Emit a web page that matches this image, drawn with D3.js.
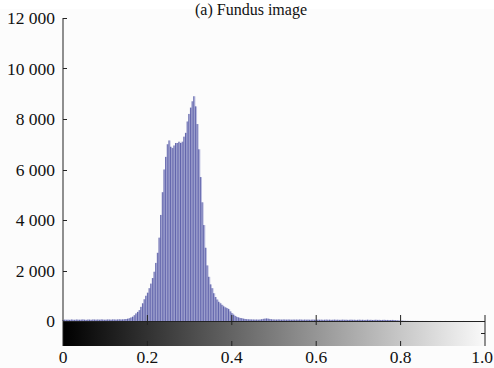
<!DOCTYPE html>
<html>
<head>
<meta charset="utf-8">
<script src="https://cdn.jsdelivr.net/npm/d3@7"></script>
<style>
  html, body { margin: 0; padding: 0; background: #fcfcfc; overflow: hidden; }
  svg { display: block; }
</style>
</head>
<body>
<svg id="chart" width="494" height="368"></svg>
<script>
// histogram counts, 256 gray-level bins (imhist style)
const countsDark = [40, 55, 48, 52, 45, 60, 50, 47, 58, 52,
  49, 55, 61, 50, 46, 57, 53, 48, 60, 55,
  52, 58, 50, 62, 56, 49, 54, 60, 57, 52,
  63, 58, 55, 61, 66, 59, 64, 70, 78, 90];
const countsPeak = [110, 140, 170, 230, 300, 360, 430, 560, 700, 860,
  1000, 1120, 1300, 1480, 1700, 1950, 2300, 2700, 3300, 4200,
  5100, 6000, 6500, 7000, 7150, 6900, 6850, 6950, 7050, 7050,
  7100, 7050, 7100, 7300, 7450, 7900, 8200, 8450, 8700, 8900,
  8500, 7800, 6800, 5700, 4700, 3800, 2900, 2200, 1750, 1450,
  1300, 1100, 950, 850, 760, 700, 640, 580, 540, 510,
  470, 380, 310, 250, 200, 160, 140, 120, 110, 90, 80, 70];
const countsTail = [65, 62, 60, 58, 55, 57, 52, 60, 70, 85,
  95, 100, 90, 75, 65, 60, 58, 55, 62, 57,
  53, 60, 56, 52, 58, 54, 50, 56, 52, 55,
  51, 57, 53, 49, 55, 50, 54, 48, 52, 56,
  50, 47, 53, 49, 52, 46, 50, 54, 48, 51,
  45, 49, 53, 47, 50, 44, 48, 52, 46, 49,
  43, 47, 51, 45, 48, 42, 46, 50, 44, 47,
  41, 45, 49, 43, 46, 40, 44, 48, 42, 45,
  39, 43, 46, 40, 42, 37, 40, 43, 35, 30,
  25, 20, 15];
const countsBright = [12, 8, 6, 5, 4, 3, 3, 2, 2, 2,
  1, 1, 2, 1, 1, 1, 0, 1, 1, 0,
  1, 0, 0, 1, 0, 0, 1, 0, 0, 0,
  0, 1, 0, 0, 0, 0, 0, 1, 0, 0,
  0, 0, 0, 0, 0, 0, 0, 0, 0, 0, 0];

const yTicks = [0, 2000, 4000, 6000, 8000, 10000, 12000];
const xTicks = [0, 0.2, 0.4, 0.6, 0.8, 1.0];
const xTickLabels = ["0", "0.2", "0.4", "0.6", "0.8", "1.0"];
const title = "(a) Fundus image";

const counts = countsDark.concat(countsPeak, countsTail, countsBright);
const nBins = counts.length;
const serif = "'Liberation Serif', 'DejaVu Serif', serif";

const svg = d3.select("#chart");
const plotLeft = 63, plotRight = 485, plotTop = 18, base = 321, barBottom = 346;

const x = d3.scaleLinear().domain([0, 1]).range([plotLeft, plotRight]);
const y = d3.scaleLinear().domain([0, 12000]).range([base, plotTop]);
const fmt = (v) => v === 0 ? "0" : d3.format(",")(v).replace(/,/g, " ");

// white strip behind the title
svg.append("rect").attr("x", 0).attr("y", 0).attr("width", 494).attr("height", 9).attr("fill", "#ffffff");
svg.append("text")
  .attr("x", 251).attr("y", 15)
  .attr("text-anchor", "middle")
  .attr("font-family", serif)
  .attr("font-size", 16)
  .attr("fill", "#111")
  .text(title);

// grayscale colour bar under the histogram
const grad = svg.append("defs").append("linearGradient").attr("id", "gray");
grad.append("stop").attr("offset", "0%").attr("stop-color", "#000");
grad.append("stop").attr("offset", "100%").attr("stop-color", "#f9f9f9");
svg.append("rect")
  .attr("x", x(0)).attr("y", base)
  .attr("width", x(1) - x(0)).attr("height", barBottom - base)
  .attr("fill", "url(#gray)");

// stems
const bw = (x(1) - x(0)) / (nBins - 1);
const bins = svg.append("g");
bins.selectAll("rect")
  .data(counts)
  .join("rect")
  .attr("x", (d, i) => x(i / (nBins - 1)))
  .attr("y", (d) => y(d))
  .attr("width", bw)
  .attr("height", (d) => base - y(d))
  .attr("fill", "#bcbedf");
bins.selectAll("line")
  .data(counts)
  .join("line")
  .attr("x1", (d, i) => x(i / (nBins - 1)))
  .attr("x2", (d, i) => x(i / (nBins - 1)))
  .attr("y1", base)
  .attr("y2", (d) => y(d))
  .attr("stroke", "#42469a")
  .attr("stroke-width", 0.8);

// y axis
const axis = svg.append("g").attr("stroke", "#222").attr("stroke-width", 1);
axis.append("line").attr("x1", plotLeft).attr("x2", plotLeft).attr("y1", plotTop).attr("y2", barBottom);
axis.selectAll(".yt")
  .data(yTicks)
  .join("line")
  .attr("x1", plotLeft).attr("x2", plotLeft + 4)
  .attr("y1", (d) => Math.round(y(d)) + 0.5)
  .attr("y2", (d) => Math.round(y(d)) + 0.5);
svg.selectAll(".ylab")
  .data(yTicks)
  .join("text")
  .attr("x", 55)
  .attr("y", (d) => y(d) + 6)
  .attr("text-anchor", "end")
  .attr("font-family", serif)
  .attr("font-size", 17.5)
  .attr("fill", "#111")
  .text(fmt);

// x axis along baseline, and colour-bar edges
axis.append("line").attr("x1", plotLeft).attr("x2", plotRight).attr("y1", base + 0.5).attr("y2", base + 0.5);
axis.append("line").attr("x1", plotRight).attr("x2", plotRight).attr("y1", 315).attr("y2", barBottom);
axis.append("line").attr("x1", plotRight).attr("x2", plotRight - 4).attr("y1", 333.5).attr("y2", 333.5);
axis.selectAll(".xt")
  .data(xTicks.slice(1, 5))
  .join("line")
  .attr("x1", (d) => x(d)).attr("x2", (d) => x(d))
  .attr("y1", base - 6).attr("y2", base + 4);
axis.selectAll(".xb")
  .data(xTicks.slice(1, 5))
  .join("line")
  .attr("x1", (d) => x(d)).attr("x2", (d) => x(d))
  .attr("y1", barBottom - 5).attr("y2", barBottom);

svg.selectAll(".xlab")
  .data(xTicks)
  .join("text")
  .attr("x", (d, i) => i === xTicks.length - 1 ? 493 : x(d))
  .attr("y", 363)
  .attr("text-anchor", (d, i) => i === xTicks.length - 1 ? "end" : "middle")
  .attr("font-family", serif)
  .attr("font-size", 17.5)
  .attr("fill", "#111")
  .text((d, i) => xTickLabels[i]);
</script>
</body>
</html>
